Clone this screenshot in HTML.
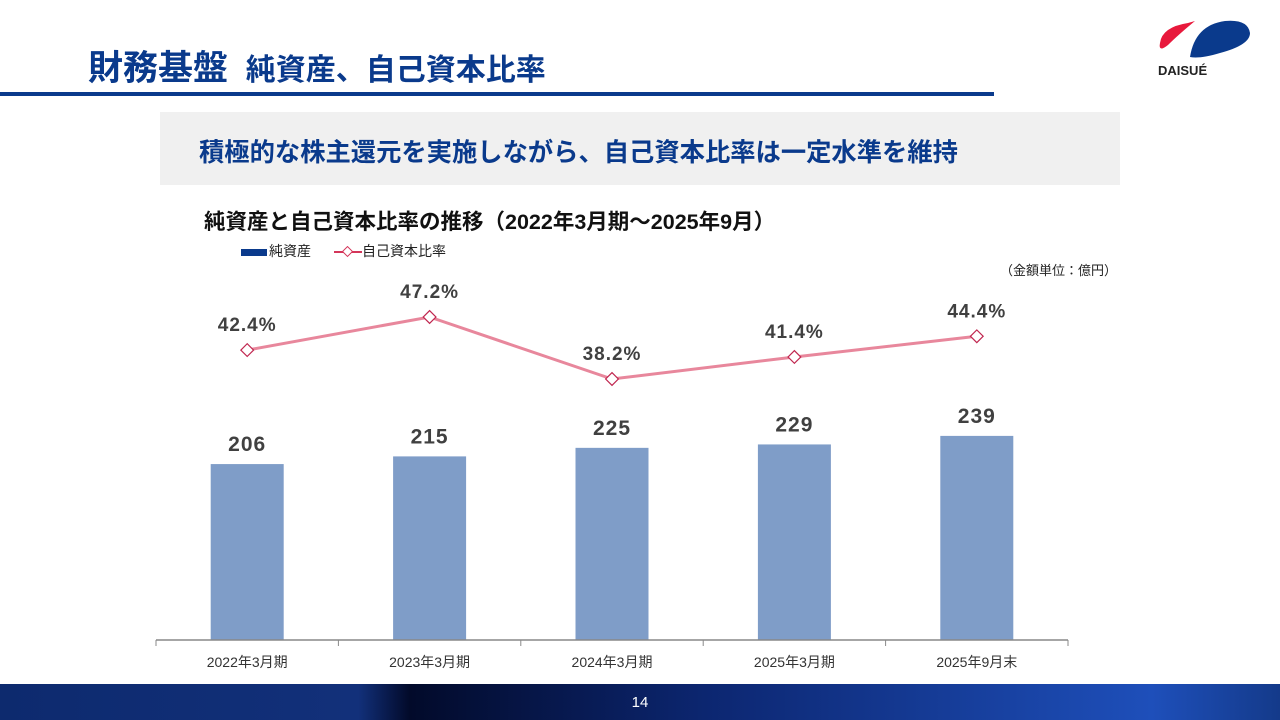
<!DOCTYPE html>
<html><head><meta charset="utf-8">
<style>
body{margin:0;width:1280px;height:720px;overflow:hidden;background:#fff;font-family:"Liberation Sans","Noto Sans CJK JP",sans-serif;position:relative}
.abs{position:absolute}
</style></head><body>
<div class="abs" style="left:88px;top:40px;font-size:35px;font-weight:bold;color:#0a3a8c;white-space:nowrap">財務基盤 <span style="font-size:30px;margin-left:8px">純資産、自己資本比率</span></div>
<div class="abs" style="left:0;top:92px;width:994px;height:4px;background:#0a3a8c"></div>
<svg class="abs" style="left:1150px;top:15px" width="110" height="65">
<path d="M10 28 Q12 12 38 8 L45 6 Q28 20 18 30 Q8 38 10 28Z" fill="#e8193c"/>
<path d="M40 42 Q45 10 75 6 Q98 4 100 18 Q100 30 70 38 Q50 44 40 42Z" fill="#0a3a8c"/>
<text x="8" y="60" font-size="13" font-weight="bold" fill="#222" font-family="Liberation Sans,sans-serif">DAISUÉ</text>
</svg>
<div class="abs" style="left:160px;top:112px;width:960px;height:73px;background:#f0f0f0"></div>
<div class="abs" style="left:199px;top:133px;font-size:25.3px;font-weight:bold;color:#0a3a8c;white-space:nowrap">積極的な株主還元を実施しながら、自己資本比率は一定水準を維持</div>
<div class="abs" style="left:204px;top:205px;font-size:21.5px;font-weight:bold;color:#111;white-space:nowrap">純資産と自己資本比率の推移（2022年3月期～2025年9月）</div>
<div class="abs" style="left:241px;top:241px;font-size:14px;color:#222;white-space:nowrap"><span style="display:inline-block;width:26px;height:7px;background:#0a3a8c;vertical-align:middle;margin-right:2px"></span>純資産</div>
<div class="abs" style="left:334px;top:241px;font-size:14px;color:#222;white-space:nowrap"><svg width="28" height="12" style="vertical-align:middle"><line x1="0" y1="6" x2="28" y2="6" stroke="#d4365a" stroke-width="2"/><rect x="10" y="2" width="7" height="7" transform="rotate(45 13.5 5.5)" fill="#fff" stroke="#d4365a"/></svg>自己資本比率</div>
<div class="abs" style="left:1000px;top:260px;font-size:13px;color:#222;white-space:nowrap">（金額単位：億円）</div>
<svg class="abs" id="chart" style="left:0;top:0" width="1280" height="684"></svg>
<div class="abs" style="left:0;top:684px;width:1280px;height:36px;background:linear-gradient(90deg,#0d2a6e 0%,#12307a 28%,#020a2a 32%,#0c2670 55%,#1e4fba 90%,#143a8a 100%)"></div>
<div class="abs" style="left:0;top:694px;width:1280px;text-align:center;font-size:15px;color:#fff">14</div>
<script>
const categories=["2022年3月期","2023年3月期","2024年3月期","2025年3月期","2025年9月末"];
const netAssets=[206,215,225,229,239];
const equityRatio=[42.4,47.2,38.2,41.4,44.4];
const ns="http://www.w3.org/2000/svg";
const svg=document.getElementById('chart');
const x0=156,x1=1068,base=640,cw=(x1-x0)/categories.length;
const xc=i=>x0+cw*(i+0.5);
const yb=v=>base-v*0.854;
const yl=v=>317+(47.2-v)*6.89;
function mk(t,a){const e=document.createElementNS(ns,t);for(const k in a)e.setAttribute(k,a[k]);svg.appendChild(e);return e;}
categories.forEach((c,i)=>{
 const r=mk('rect',{x:xc(i)-36.5,y:yb(netAssets[i]),width:73,height:base-yb(netAssets[i]),fill:'#7f9dc8'});
 
 
 const t=mk('text',{x:xc(i),y:yb(netAssets[i])-13,'text-anchor':'middle','font-size':21,'font-weight':'bold',fill:'#404040','letter-spacing':1});
 t.textContent=netAssets[i];
 
 
 const l=mk('text',{x:xc(i),y:base+27,'text-anchor':'middle','font-size':14,fill:'#333'});
 l.textContent=c;
 
 
});
for(let i=0;i<=categories.length;i++){
 const tk=mk('line',{x1:x0+cw*i,x2:x0+cw*i,y1:base,y2:base+6,stroke:'#888'});
 
 
}
const ax=mk('line',{x1:x0,x2:x1,y1:base,y2:base,stroke:'#888','stroke-width':1.5});


const pl=mk('polyline',{points:equityRatio.map((v,i)=>xc(i)+','+yl(v)).join(' '),fill:'none',stroke:'#e8879c','stroke-width':3});


equityRatio.forEach((v,i)=>{
 const m=mk('rect',{x:xc(i)-4.5,y:yl(v)-4.5,width:9,height:9,fill:'#fff',stroke:'#c0264f','stroke-width':1.2,transform:`rotate(45 ${xc(i)} ${yl(v)})`});
 
 
 const t=mk('text',{x:xc(i),y:yl(v)-19,'text-anchor':'middle','font-size':19,'font-weight':'bold',fill:'#404040','letter-spacing':1});
 t.textContent=v.toFixed(1)+'%';
 
 
});
</script>
</body></html>
